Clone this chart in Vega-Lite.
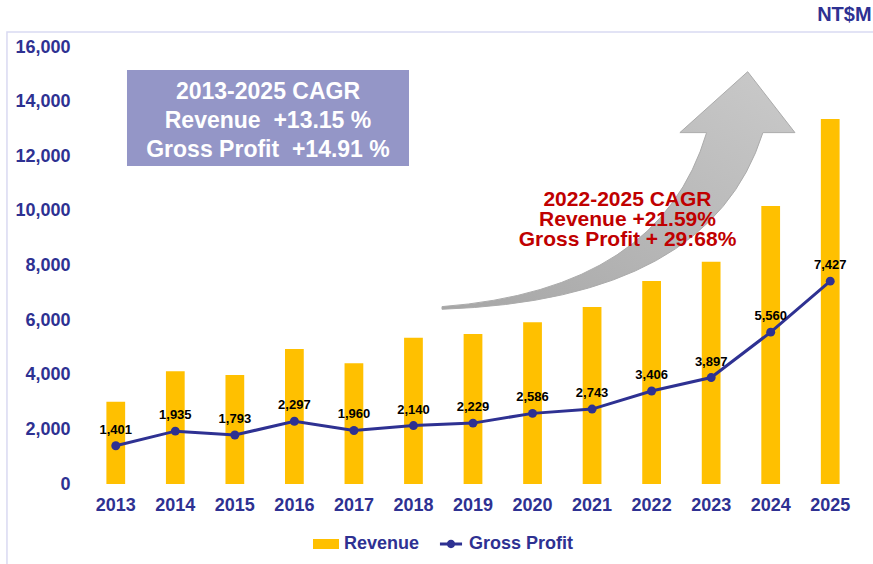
{
  "$schema": "https://vega.github.io/schema/vega-lite/v6.json",
  "autosize": {"type": "none"},
  "padding": {"left": 86, "top": 47, "right": 13, "bottom": 80},
  "width": 774,
  "height": 437,
  "background": "white",
  "config": {
    "view": {"stroke": null},
    "font": "Liberation Sans",
    "axis": {
      "labelFont": "Liberation Sans",
      "labelFontWeight": "bold",
      "labelFontSize": 18,
      "labelColor": "#2E3192",
      "ticks": false,
      "domain": false,
      "title": null
    }
  },
  "data": {
    "values": [
      {"year": "2013", "revenue": 3013, "gross_profit": 1401},
      {"year": "2014", "revenue": 4126, "gross_profit": 1935},
      {"year": "2015", "revenue": 3991, "gross_profit": 1793},
      {"year": "2016", "revenue": 4943, "gross_profit": 2297},
      {"year": "2017", "revenue": 4419, "gross_profit": 1960},
      {"year": "2018", "revenue": 5356, "gross_profit": 2140},
      {"year": "2019", "revenue": 5492, "gross_profit": 2229},
      {"year": "2020", "revenue": 5920, "gross_profit": 2586},
      {"year": "2021", "revenue": 6481, "gross_profit": 2743},
      {"year": "2022", "revenue": 7432, "gross_profit": 3406},
      {"year": "2023", "revenue": 8139, "gross_profit": 3897},
      {"year": "2024", "revenue": 10178, "gross_profit": 5560},
      {"year": "2025", "revenue": 13364, "gross_profit": 7427}
    ]
  },
  "encoding": {
    "x": {
      "field": "year",
      "type": "ordinal",
      "scale": {"paddingInner": 0.685, "paddingOuter": 0.3425},
      "axis": {"labelAngle": 0, "labelPadding": 12, "grid": false}
    }
  },
  "layer": [
    {
      "data": {"values": [{}]},
      "mark": {
        "type": "point",
        "shape": "M-1,0.8L-1,-0.622L1,-0.622",
        "size": 762129,
        "filled": false,
        "fill": null,
        "stroke": "#D9DAF2",
        "strokeWidth": 1.5,
        "opacity": 1,
        "xOffset": 30
      },
      "encoding": {
        "x": {"datum": "2018", "type": "ordinal"},
        "y": {
          "datum": 6609,
          "type": "quantitative",
          "scale": {"domain": [0, 16000], "nice": false},
          "axis": {
            "values": [0, 2000, 4000, 6000, 8000, 10000, 12000, 14000, 16000],
            "format": ",.0f",
            "labelPadding": 16,
            "gridColor": "#DCDCF2",
            "gridWidth": 1.5
          }
        }
      }
    },
    {
      "data": {"values": [{}]},
      "mark": {
        "type": "point",
        "shape": "M-1,-0.3404L1,-0.3404L1,0.3404L-1,0.3404Z",
        "size": 79524,
        "filled": true,
        "color": "#2E3192",
        "fillOpacity": 0.51,
        "strokeWidth": 0,
        "xOffset": 33.15
      },
      "encoding": {
        "x": {"datum": "2015", "type": "ordinal"},
        "y": {"datum": 13400, "type": "quantitative"}
      }
    },
    {
      "data": {"values": [{}]},
      "mark": {
        "type": "point",
        "shape": "M-0.997,0.671Q0.517,0.619,0.816,-0.327L0.997,-0.327L0.730,-0.671L0.347,-0.327L0.498,-0.327Q0.234,0.562,-0.997,0.656Z",
        "size": 125316,
        "filled": true,
        "fill": {
          "gradient": "linear",
          "x1": 0, "y1": 1, "x2": 1, "y2": 0,
          "stops": [
            {"offset": 0, "color": "#A6A6A6"},
            {"offset": 1, "color": "#CACACA"}
          ]
        },
        "stroke": "#ABABAB",
        "strokeWidth": 1,
        "opacity": 1,
        "xOffset": 26.4
      },
      "encoding": {
        "x": {"datum": "2021", "type": "ordinal"},
        "y": {"datum": 10746, "type": "quantitative"}
      }
    },
    {
      "mark": {"type": "bar"},
      "encoding": {
        "y": {"field": "revenue", "type": "quantitative"},
        "color": {
          "datum": "Revenue",
          "scale": {"domain": ["Revenue", "Gross Profit"], "range": ["#FFC000", "#2E3192"]},
          "legend": {
            "title": null,
            "orient": "none",
            "direction": "horizontal",
            "legendX": 227,
            "legendY": 484,
            "symbolSize": 676,
            "labelFont": "Liberation Sans",
            "labelFontWeight": "bold",
            "labelFontSize": 18,
            "labelColor": "#2E3192",
            "labelOffset": 5,
            "columnPadding": 18,
            "encode": {
              "symbols": {
                "update": {
                  "shape": {"signal": "datum.value === 'Revenue' ? 'M-1,-0.385L1,-0.385L1,0.385L-1,0.385Z' : 'M-0.85,-0.115L-0.3,-0.115L-0.3,0.115L-0.85,0.115ZM0.3,-0.115L0.85,-0.115L0.85,0.115L0.3,0.115ZM-0.32,0A0.32,0.32,0,1,1,0.32,0A0.32,0.32,0,1,1,-0.32,0Z'"},
                  "fill": {"signal": "datum.value === 'Revenue' ? '#FFC000' : '#2E3192'"},
                  "stroke": {"value": "transparent"},
                  "strokeWidth": {"value": 0},
                  "opacity": {"value": 1}
                }
              }
            }
          }
        }
      }
    },
    {
      "mark": {"type": "line", "strokeWidth": 3},
      "encoding": {
        "y": {"field": "gross_profit", "type": "quantitative"},
        "color": {"datum": "Gross Profit"}
      }
    },
    {
      "mark": {"type": "point", "filled": true, "size": 80, "opacity": 1},
      "encoding": {
        "y": {"field": "gross_profit", "type": "quantitative"},
        "color": {"datum": "Gross Profit"}
      }
    },
    {
      "mark": {"type": "text", "dy": -16, "font": "Liberation Sans", "fontWeight": "bold", "fontSize": 13, "color": "#000000"},
      "encoding": {
        "y": {"field": "gross_profit", "type": "quantitative"},
        "text": {"field": "gross_profit", "type": "quantitative", "format": ","}
      }
    },
    {
      "data": {"values": [{}]},
      "mark": {
        "type": "text",
        "text": ["2013-2025 CAGR", "Revenue\u00a0 +13.15 %", "Gross Profit\u00a0 +14.91 %"],
        "font": "Liberation Sans",
        "fontWeight": "bold",
        "fontSize": 23,
        "lineHeight": 29,
        "color": "#FFFFFF",
        "align": "center",
        "baseline": "middle",
        "xOffset": 33.15
      },
      "encoding": {
        "x": {"datum": "2015", "type": "ordinal"},
        "y": {"datum": 14350, "type": "quantitative"}
      }
    },
    {
      "data": {"values": [{}]},
      "mark": {
        "type": "text",
        "text": ["2022-2025 CAGR", "Revenue +21.59%", "Gross Profit + 29:68%"],
        "font": "Liberation Sans",
        "fontWeight": "bold",
        "fontSize": 21,
        "lineHeight": 20,
        "color": "#C00000",
        "align": "center",
        "baseline": "middle",
        "xOffset": 35.4
      },
      "encoding": {
        "x": {"datum": "2021", "type": "ordinal"},
        "y": {"datum": 10398, "type": "quantitative"}
      }
    },
    {
      "data": {"values": [{}]},
      "mark": {
        "type": "text",
        "text": "NT$M",
        "font": "Liberation Sans",
        "fontWeight": "bold",
        "fontSize": 20,
        "color": "#2E3192",
        "align": "right",
        "baseline": "middle",
        "xOffset": 41.4
      },
      "encoding": {
        "x": {"datum": "2025", "type": "ordinal"},
        "y": {"datum": 17172, "type": "quantitative"}
      }
    }
  ]
}
